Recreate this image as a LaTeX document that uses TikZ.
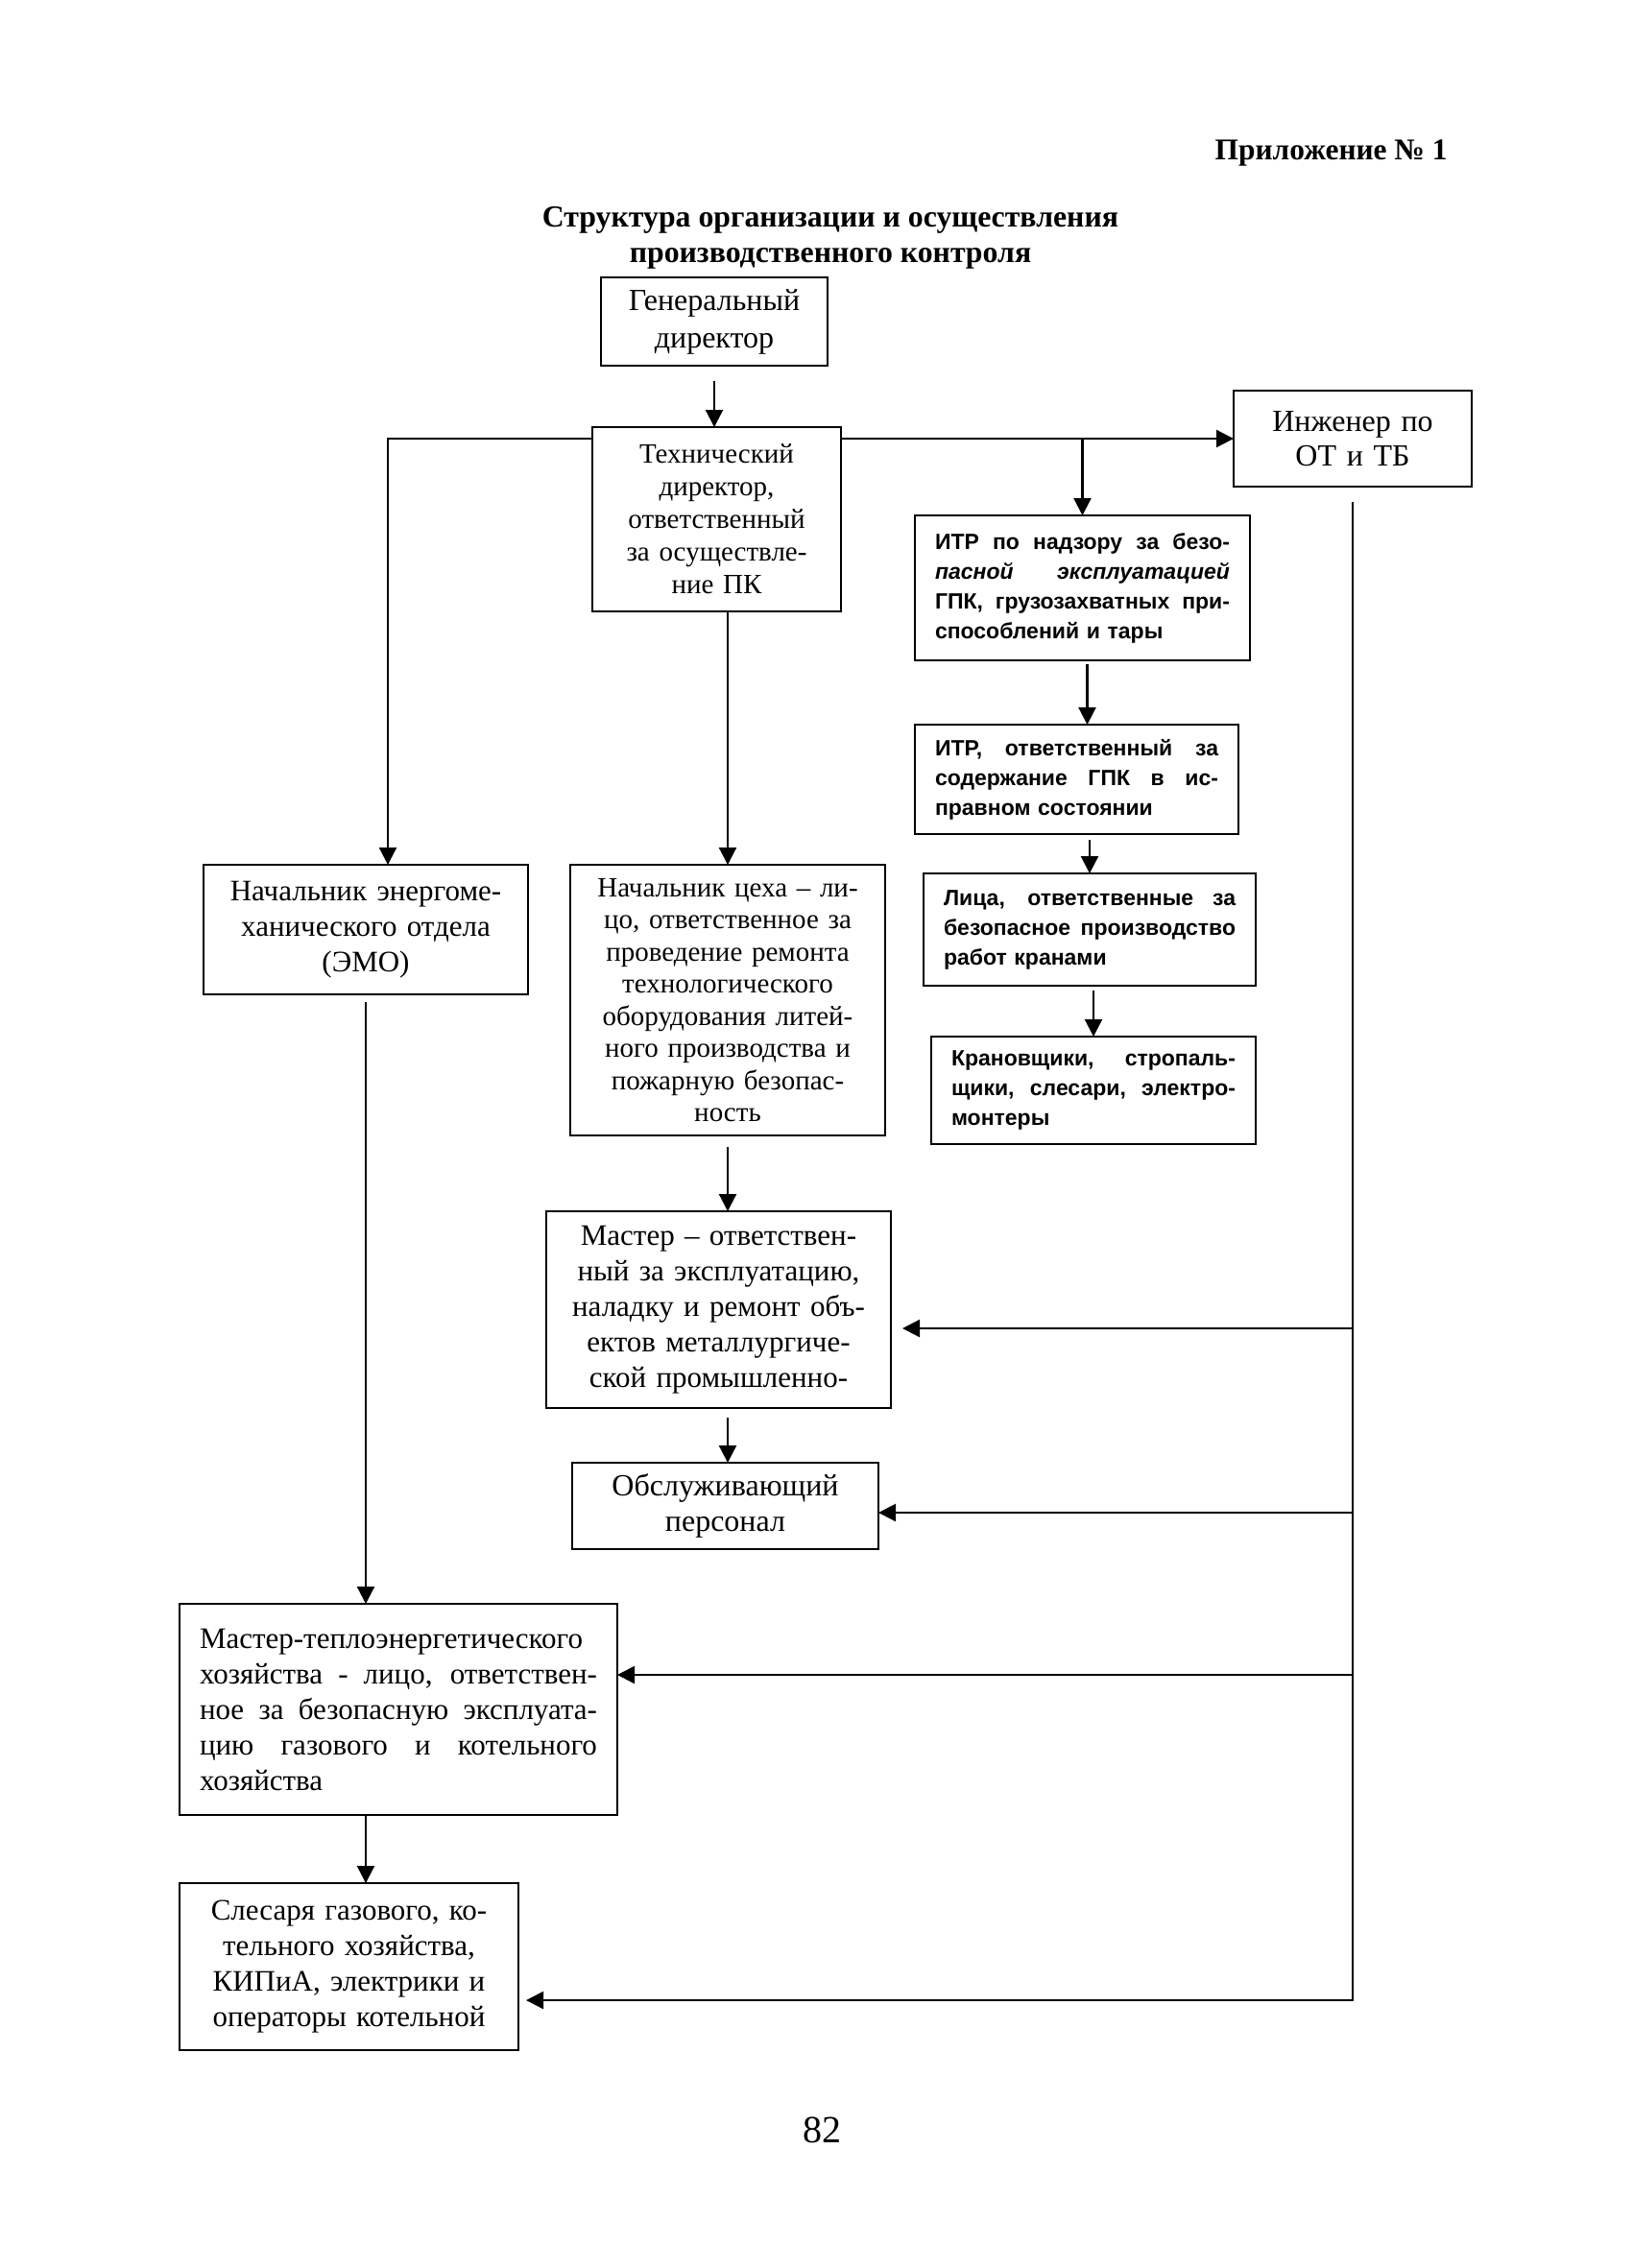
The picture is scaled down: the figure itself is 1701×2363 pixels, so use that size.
\documentclass[tikz,border=0pt]{standalone}
\usepackage{fontspec}
\setmainfont{Liberation Serif}
\newfontfamily\sansf{Liberation Sans}
\usetikzlibrary{arrows.meta}
\newcommand{\jline}[1]{\makebox[\hsize][s]{\spaceskip=0.25em plus 20em\xspaceskip=0.25em plus 20em #1}}
\begin{document}
\begin{tikzpicture}[x=0.5pt,y=-0.5pt,
  box/.style={draw, line width=1.2pt, inner xsep=10.5pt, inner ysep=2pt, outer sep=0pt},
  main/.style={box, align=center, font=\fontsize{15.5}{18.5}\selectfont},
  small/.style={box, align=left, font=\sansf\bfseries\fontsize{11.5}{15.5}\selectfont},
  arr/.style={line width=1.1pt, -{Triangle[length=9pt,width=9pt]}},
  ln/.style={line width=1.1pt}]
\useasboundingbox[fill=white] (0,0) rectangle (1701,2363);

% headings
\node[anchor=base east, inner sep=0pt, font=\bfseries\fontsize{15.7}{18}\selectfont] (apx) at (1508,166) {Приложение № 1};
\node[anchor=base, inner sep=0pt, font=\bfseries\fontsize{15.9}{18}\selectfont] (title1) at (865,236) {Структура организации и осуществления};
\node[anchor=base, inner sep=0pt, font=\bfseries\fontsize{15.9}{18}\selectfont] (title2) at (865,273) {производственного контроля};
\node[anchor=base, inner sep=0pt, font=\fontsize{20}{24}\selectfont] (pnum) at (856,2232) {82};

% boxes
\node[main, text width=97pt, minimum height=46pt, font=\fontsize{16}{19.5}\selectfont] (gen) at (744,335) {Генеральный\\директор};
\node[main, text width=108.5pt, minimum height=96pt, font=\fontsize{14.5}{17}\selectfont] (tech) at (746.5,541) {Технический\\директор,\\ответственный\\за осуществле-\\ние ПК};
\node[main, text width=103pt, minimum height=50pt, font=\fontsize{16}{18}\selectfont] (ing) at (1409,457) {Инженер по\\ОТ и ТБ};
\node[small, text width=153.5pt, minimum height=75.5pt] (itr1) at (1127.5,612.5) {\jline{ИТР по надзору за безо-}\\\jline{\itshape пасной эксплуатацией}\\\jline{ГПК, грузозахватных при-}\\способлений и тары};
\node[small, text width=147.5pt, minimum height=57pt] (itr2) at (1121.5,812) {\jline{ИТР, ответственный за}\\\jline{содержание ГПК в ис-}\\правном состоянии};
\node[small, text width=152pt, minimum height=58.5pt] (lica) at (1135,968.5) {\jline{Лица, ответственные за}\\\jline{безопасное производство}\\работ кранами};
\node[small, text width=148pt, minimum height=56pt] (kran) at (1139,1136) {\jline{Крановщики, стропаль-}\\\jline{щики, слесари, электро-}\\монтеры};
\node[main, text width=148pt, minimum height=67.5pt] (emo) at (381,968.5) {Начальник энергоме-\\ханического отдела\\(ЭМО)};
\node[main, text width=143pt, minimum height=141pt, font=\fontsize{14.5}{16.75}\selectfont] (cex) at (758,1042) {Начальник цеха – ли-\\цо, ответственное за\\проведение ремонта\\технологического\\оборудования литей-\\ного производства и\\пожарную безопас-\\ность};
\node[main, text width=158.5pt, minimum height=102.5pt] (master) at (748.5,1364.5) {Мастер – ответствен-\\ный за эксплуатацию,\\наладку и ремонт объ-\\ектов металлургиче-\\ской промышленно-};
\node[main, text width=138.5pt, minimum height=45pt, font=\fontsize{16}{18.5}\selectfont] (obsl) at (755.5,1569) {Обслуживающий\\персонал};
\node[main, align=left, text width=207pt, minimum height=110pt] (teplo) at (415,1781) {\jline{Мастер-теплоэнергетического}\\\jline{хозяйства - лицо, ответствен-}\\\jline{ное за безопасную эксплуата-}\\\jline{цию газового и котельного}\\хозяйства};
\node[main, text width=155.5pt, minimum height=87pt] (sles) at (363.5,2049) {Слесаря газового, ко-\\тельного хозяйства,\\КИПиА, электрики и\\операторы котельной};

% helper coordinates
\coordinate (hl) at (404,457);
\coordinate (ym) at (0,1384);
\coordinate (yo) at (0,1576);
\coordinate (yt) at (0,1745);
\coordinate (ys) at (0,2084);

% connectors
\draw[arr, shorten <=8pt] (gen.south) -- (gen.south |- tech.north);
\draw[arr] (tech.west |- hl) -- (hl) -- (hl |- emo.north);
\draw[arr] (tech.east |- ing.west) -- (ing.west);
\draw[arr] (itr1.north |- ing.west) -- (itr1.north);
\draw[arr, shorten <=2pt] ([xshift=2.5pt]itr1.south) -- ([xshift=2.5pt]itr1.south |- itr2.north);
\draw[arr, shorten <=3pt] (lica.north |- itr2.south) -- (lica.north);
\draw[arr, shorten <=2.5pt] (kran.north |- lica.south) -- (kran.north);
\draw[arr] (cex.north |- tech.south) -- (cex.north);
\draw[arr, shorten <=6pt] (cex.south) -- (cex.south |- master.north);
\draw[arr, shorten <=5pt] (cex.south |- master.south) -- (cex.south |- obsl.north);
\draw[arr, shorten <=4pt] (emo.south) -- (emo.south |- teplo.north);
\draw[arr] (emo.south |- teplo.south) -- (emo.south |- sles.north);
\draw[arr, shorten <=8pt, shorten >=4pt] (ing.south) -- (ing.south |- ys) -- (ys -| sles.east);
\draw[arr, shorten >=6pt] (ing.south |- ym) -- (ym -| master.east);
\draw[arr] (ing.south |- yo) -- (yo -| obsl.east);
\draw[arr] (ing.south |- yt) -- (yt -| teplo.east);
\end{tikzpicture}
\end{document}
